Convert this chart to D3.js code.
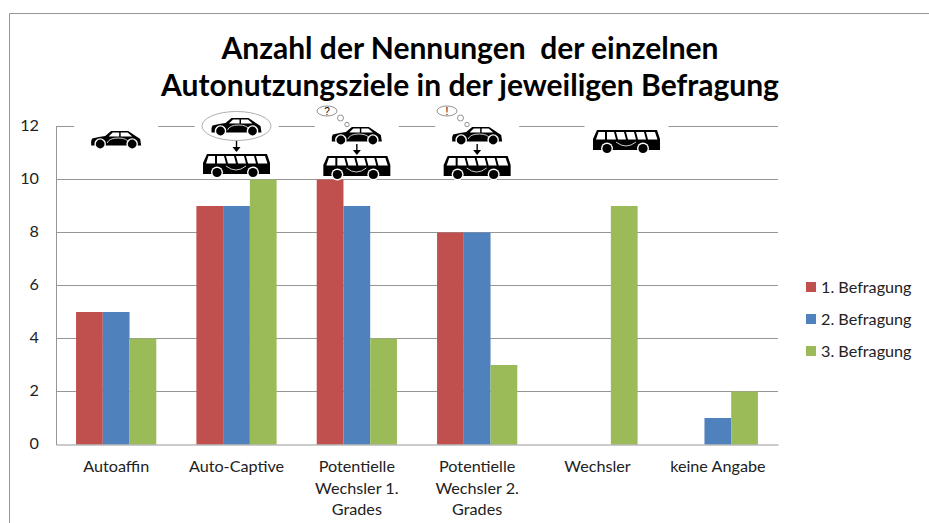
<!DOCTYPE html>
<html>
<head>
<meta charset="utf-8">
<script src="https://d3js.org/d3.v7.min.js"></script>
<style>
  html, body { margin: 0; padding: 0; background: #fff; }
  svg { display: block; font-family: Lato, sans-serif; }
</style>
</head>
<body>
<svg id="chart" width="929" height="523"></svg>
<script>
// Daten
const categories = ['Autoaffin', 'Auto-Captive', 'Potentielle Wechsler 1. Grades', 'Potentielle Wechsler 2. Grades', 'Wechsler', 'keine Angabe'];
const categoryLines = [['Autoaffin'], ['Auto-Captive'], ['Potentielle', 'Wechsler 1.', 'Grades'], ['Potentielle', 'Wechsler 2.', 'Grades'], ['Wechsler'], ['keine Angabe']];
const seriesNames = ['1. Befragung', '2. Befragung', '3. Befragung'];
const befragung1 = [5, 9, 10, 8, 0, 0];
const befragung2 = [5, 9, 9, 8, 0, 1];
const befragung3 = [4, 10, 4, 3, 9, 2];
const yTicks = [0, 2, 4, 6, 8, 10, 12];
const titleLines = ['Anzahl der Nennungen  der einzelnen', 'Autonutzungsziele in der jeweiligen Befragung'];
const colors = ['#C0504D', '#4F81BD', '#9BBB59'];
const allSeries = [befragung1, befragung2, befragung3];

const svg = d3.select('#chart');
const axisColor = '#969696';
const textColor = '#222';
const labelSize = 16.2;

// Rahmen
svg.append('path')
    .attr('d', 'M9.5,523V13.5H929')
    .attr('fill', 'none')
    .attr('stroke', axisColor)
    .attr('stroke-width', 1);

const x0 = d3.scaleBand()
    .domain(categories)
    .range([56, 778])
    .paddingInner(0.3333)
    .paddingOuter(0.1667);

const x1 = d3.scaleBand()
    .domain(d3.range(seriesNames.length))
    .range([0, x0.bandwidth()]);

const y = d3.scaleLinear()
    .domain([0, 12])
    .range([444.5, 126.5]);

// Gitter
svg.append('g')
    .selectAll('line')
    .data(yTicks.slice(1))
    .join('line')
    .attr('x1', 56)
    .attr('x2', 778)
    .attr('y1', d => y(d))
    .attr('y2', d => y(d))
    .attr('stroke', axisColor);

// Balken
const groups = svg.append('g')
    .selectAll('g')
    .data(allSeries)
    .join('g')
    .attr('fill', (d, i) => colors[i]);

groups.selectAll('rect')
    .data((d, i) => d.map((v, j) => ({ v: v, cat: categories[j], s: i })))
    .join('rect')
    .attr('x', d => x0(d.cat) + x1(d.s))
    .attr('width', x1.bandwidth())
    .attr('y', d => y(d.v))
    .attr('height', d => y(0) - y(d.v));

// Achsen
const yaxis = d3.axisLeft(y).tickValues(yTicks).tickSize(0).tickPadding(17);
const yg = svg.append('g').attr('transform', 'translate(56,0)').call(yaxis);
yg.select('.domain').attr('stroke', axisColor);
yg.selectAll('text')
    .attr('font-size', labelSize)
    .attr('font-family', 'Lato')
    .attr('fill', textColor)
    .attr('y', -1);

const xaxis = d3.axisBottom(x0).tickSize(0).tickSizeOuter(0);
const xg = svg.append('g').attr('transform', 'translate(0,444.5)').call(xaxis);
xg.select('.domain').attr('stroke', axisColor);
xg.selectAll('text').remove();
xg.selectAll('.tick').append('text')
    .attr('text-anchor', 'middle')
    .attr('font-size', labelSize)
    .attr('font-family', 'Lato')
    .attr('fill', textColor)
    .selectAll('tspan')
    .data((d, i) => categoryLines[i])
    .join('tspan')
    .attr('x', 0)
    .attr('y', (d, i) => 27.5 + i * 21.7)
    .text(d => d);

// Titel
svg.append('g')
    .selectAll('text')
    .data(titleLines)
    .join('text')
    .attr('x', 470)
    .attr('y', (d, i) => 59 + i * 37)
    .attr('text-anchor', 'middle')
    .attr('font-size', 30)
    .attr('font-weight', 700)
    .attr('fill', '#000')
    .style('white-space', 'pre')
    .text(d => d);

// Legende
const legend = svg.append('g')
    .selectAll('g')
    .data(seriesNames)
    .join('g')
    .attr('transform', (d, i) => `translate(806,${282 + i * 32})`);
legend.append('rect')
    .attr('width', 10)
    .attr('height', 10)
    .attr('fill', (d, i) => colors[i]);
legend.append('text')
    .attr('x', 15)
    .attr('y', 10.5)
    .attr('font-size', labelSize)
    .attr('fill', textColor)
    .text(d => d);

// Piktogramme
const icons = svg.append('g');

function blank(cx) {
    icons.append('rect')
        .attr('x', cx - 42)
        .attr('y', 108)
        .attr('width', 84)
        .attr('height', 70)
        .attr('fill', '#fff');
}

function car(cx, top) {
    const g = icons.append('g').attr('transform', `translate(${cx - 25},${top})`);
    g.append('path')
        .attr('d', 'M0,10 L1,7.5 Q8,5.5 14,5 L20,0 L37,0 L49,8 L50,14.5 L0,14.5 Z')
        .attr('fill', '#000');
    g.append('path')
        .attr('d', 'M17.5,5.5 L21.5,1.6 L28,1.6 L28,5.5 Z M29.5,1.6 L36.5,1.6 L41,5.5 L29.5,5.5 Z')
        .attr('fill', '#fff');
    g.append('path')
        .attr('d', 'M16,12 Q18,7 27,7 Q36,7 38,12')
        .attr('fill', 'none')
        .attr('stroke', '#fff')
        .attr('stroke-width', 0.8);
    [9, 41].forEach(wx => {
        g.append('circle').attr('cx', wx).attr('cy', 13).attr('r', 5.8).attr('fill', '#fff');
        g.append('circle').attr('cx', wx).attr('cy', 13).attr('r', 4.4).attr('fill', '#000');
    });
}

function bus(cx, top) {
    const g = icons.append('g').attr('transform', `translate(${cx - 33.5},${top})`);
    g.append('path')
        .attr('d', 'M4,0 L64,0 L67,9 L67,20 L0,20 L0,9 Z')
        .attr('fill', '#000');
    g.append('path')
        .attr('d', 'M5.5,2 L12,2 L12,9.5 L3,9.5 Z M14,2 L21,2 L23,9.5 L14,9.5 Z M23,2 L31,2 L33,9.5 L25,9.5 Z M33,2 L41,2 L43,9.5 L35,9.5 Z M43,2 L51,2 L53,9.5 L45,9.5 Z M53,2 L62,2 L64.5,9.5 L55,9.5 Z')
        .attr('fill', '#fff');
    g.append('path')
        .attr('d', 'M23,12 Q33,20 43,12')
        .attr('fill', 'none')
        .attr('stroke', '#fff')
        .attr('stroke-width', 0.8);
    [14, 50].forEach(wx => {
        g.append('circle').attr('cx', wx).attr('cy', 18.5).attr('r', 6).attr('fill', '#fff');
        g.append('circle').attr('cx', wx).attr('cy', 18.5).attr('r', 4.6).attr('fill', '#000');
    });
}

function arrow(cx, top) {
    icons.append('path')
        .attr('d', `M${cx},${top} V${top + 8}`)
        .attr('stroke', '#000')
        .attr('stroke-width', 1.4);
    icons.append('path')
        .attr('d', `M${cx - 4},${top + 6} H${cx + 4} L${cx},${top + 11} Z`)
        .attr('fill', '#000');
}

function bubble(cx, sign) {
    const stroke = '#777';
    icons.append('ellipse')
        .attr('cx', cx).attr('cy', 111).attr('rx', 10).attr('ry', 5)
        .attr('fill', '#fff').attr('stroke', stroke).attr('stroke-width', 0.8);
    icons.append('circle')
        .attr('cx', cx + 13.5).attr('cy', 118).attr('r', 3)
        .attr('fill', '#fff').attr('stroke', stroke).attr('stroke-width', 0.8);
    icons.append('circle')
        .attr('cx', cx + 20).attr('cy', 124.5).attr('r', 2.2)
        .attr('fill', '#fff').attr('stroke', stroke).attr('stroke-width', 0.8);
    icons.append('text')
        .attr('x', cx).attr('y', 114.5)
        .attr('text-anchor', 'middle')
        .attr('font-size', 10)
        .attr('font-family', 'Liberation Sans')
        .attr('fill', '#000')
        .text(sign);
}

const cx = categories.map(c => x0(c) + x0.bandwidth() / 2);
// die Bilder stehen in der Vorlage nicht genau über den Gruppen
const wechslerIconX = cx[4] + 29;
[cx[0], cx[1], cx[2], cx[3], wechslerIconX].forEach(blank);

// Autoaffin
car(cx[0], 131);

// Auto-Captive
icons.append('ellipse')
    .attr('cx', cx[1]).attr('cy', 126).attr('rx', 34.5).attr('ry', 14.5)
    .attr('fill', '#fff').attr('stroke', '#999').attr('stroke-width', 0.8);
car(cx[1], 118);
arrow(cx[1], 141);
bus(cx[1], 154);

// Potentielle Wechsler 1. Grades
bubble(Math.round(cx[2] - 30), '?');
car(cx[2], 127);
arrow(cx[2], 144);
bus(cx[2], 156);

// Potentielle Wechsler 2. Grades
bubble(Math.round(cx[3] - 30), '!');
car(cx[3], 127);
arrow(cx[3], 144);
bus(cx[3], 156);

// Wechsler
bus(wechslerIconX, 130);
</script>
</body>
</html>
